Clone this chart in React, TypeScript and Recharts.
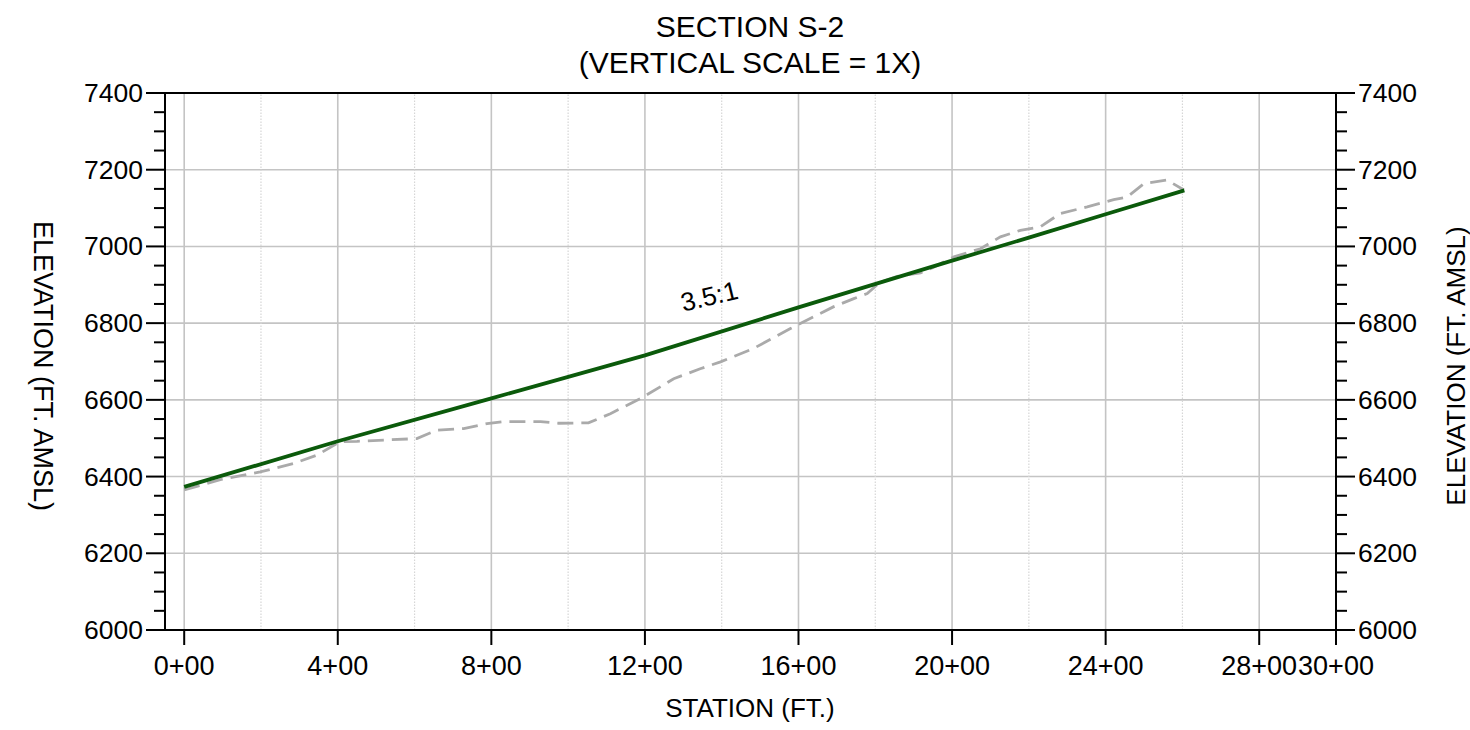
import React from 'react'
import { LineChart, Line, XAxis, YAxis, ReferenceLine, ReferenceDot } from 'recharts'

const FONT = '"Liberation Sans", Arial, Helvetica, sans-serif'

// proposed grade (3.5:1), station in ft, elevation in ft amsl
const designStations = [0, 400, 800, 1200, 1600, 2000, 2200, 2400, 2605]
const designElev = [6373, 6492, 6604, 6716, 6841, 6963, 7023, 7084, 7146]

// existing ground (dashed)
const groundStations = [
  0, 94, 198, 285, 346, 406, 450, 606, 658, 728, 789, 832, 928, 975, 1053, 1110,
  1188, 1275, 1344, 1397, 1483, 1579, 1692, 1744, 1779, 1813, 1857, 1918, 1952,
  2005, 2074, 2126, 2178, 2230, 2282, 2352, 2421, 2456, 2500, 2560, 2604
]
const groundElev = [
  6365, 6392, 6412, 6434, 6456, 6491, 6492, 6499, 6521, 6525, 6538, 6543, 6543,
  6539, 6540, 6564, 6603, 6655, 6681, 6699, 6734, 6786, 6843, 6864, 6877, 6907,
  6922, 6931, 6946, 6973, 6994, 7025, 7042, 7051, 7086, 7103, 7122, 7129, 7164,
  7173, 7147
]

const stationTicks = [0, 400, 800, 1200, 1600, 2000, 2400, 2800, 3000]
const elevTicks = [
  6000, 6050, 6100, 6150, 6200, 6250, 6300, 6350, 6400, 6450, 6500, 6550, 6600,
  6650, 6700, 6750, 6800, 6850, 6900, 6950, 7000, 7050, 7100, 7150, 7200, 7250,
  7300, 7350, 7400
]
const gridElev = [6200, 6400, 6600, 6800, 7000, 7200]
const gridStations = [0, 400, 800, 1200, 1600, 2000, 2400, 2800]
const dottedStations = [200, 600, 1000, 1400, 1800, 2200, 2600]

const designData = designStations.map((s, i) => ({ station: s, elev: designElev[i] }))
const groundData = groundStations.map((s, i) => ({ station: s, elev: groundElev[i] }))

const fmtStation = (v: number) => `${v / 100}+00`

function ElevTick({ x, y, payload, side }: any) {
  const major = payload.value % 200 === 0
  const len = major ? 19 : 11
  const dir = side === 'left' ? -1 : 1
  return (
    <g>
      <line x1={x} x2={x + dir * len} y1={y} y2={y} stroke="#000" strokeWidth={2} />
      {major && (
        <text
          x={x + dir * 22}
          y={y + 9}
          textAnchor={side === 'left' ? 'end' : 'start'}
          fontSize={26.5}
          fontFamily={FONT}
          fill="#000"
        >
          {payload.value}
        </text>
      )}
    </g>
  )
}

function StationTick({ x, y, payload }: any) {
  return (
    <text x={x} y={y + 30} textAnchor="middle" fontSize={27} fontFamily={FONT} fill="#000">
      {fmtStation(payload.value)}
    </text>
  )
}

export default function App() {
  return (
    <div style={{ position: 'absolute', left: 0, top: 0, width: 1470, height: 730, background: '#fff' }}>
      <LineChart width={1470} height={730} margin={{ top: 93, right: 0, bottom: 0, left: 0 }}>
        <XAxis
          type="number"
          dataKey="station"
          domain={[-50, 3000]}
          allowDataOverflow
          ticks={stationTicks}
          interval={0}
          height={100}
          tickSize={15}
          tickMargin={0}
          axisLine={{ stroke: '#000', strokeWidth: 2 }}
          tickLine={{ stroke: '#000', strokeWidth: 2 }}
          tick={<StationTick />}
        />
        <YAxis
          type="number"
          domain={[6000, 7400]}
          allowDataOverflow
          ticks={elevTicks}
          interval={0}
          width={165}
          tickSize={0}
          tickMargin={0}
          axisLine={{ stroke: '#000', strokeWidth: 2 }}
          tickLine={false}
          tick={<ElevTick side="left" />}
        />
        <YAxis
          yAxisId="right"
          orientation="right"
          type="number"
          domain={[6000, 7400]}
          allowDataOverflow
          ticks={elevTicks}
          interval={0}
          width={134}
          tickSize={0}
          tickMargin={0}
          axisLine={{ stroke: '#000', strokeWidth: 2 }}
          tickLine={false}
          tick={<ElevTick side="right" />}
        />

        {gridElev.map((v) => (
          <ReferenceLine key={`gy-${v}`} y={v} stroke="#c4c4c4" strokeWidth={1.6} />
        ))}
        {gridStations.map((v) => (
          <ReferenceLine key={`gx-${v}`} x={v} stroke="#c4c4c4" strokeWidth={1.6} />
        ))}
        {dottedStations.map((v) => (
          <ReferenceLine key={`dx-${v}`} x={v} stroke="#d6d6d6" strokeWidth={1.2} strokeDasharray="1.5 1.5" />
        ))}
        <ReferenceLine y={7400} stroke="#000" strokeWidth={2} />

        <Line
          data={groundData}
          dataKey="elev"
          type="linear"
          stroke="#aaaaaa"
          strokeWidth={2.8}
          strokeDasharray="16 8"
          dot={false}
          activeDot={false}
          isAnimationActive={false}
        />
        <Line
          data={designData}
          dataKey="elev"
          type="linear"
          stroke="#0b5a0b"
          strokeWidth={3.8}
          dot={false}
          activeDot={false}
          isAnimationActive={false}
        />
        <ReferenceDot
          x={1373}
          y={6847}
          r={0}
          shape={(p: any) => (
            <text
              x={p.cx}
              y={p.cy}
              textAnchor="middle"
              fontSize={26}
              fontFamily={FONT}
              fill="#000"
              transform={`rotate(-13.5, ${p.cx}, ${p.cy})`}
            >
              3.5:1
            </text>
          )}
        />
      </LineChart>

      <svg
        width={1470}
        height={730}
        style={{ position: 'absolute', left: 0, top: 0, pointerEvents: 'none' }}
      >
        <g fontFamily={FONT} fill="#000">
          <text x={750} y={37} textAnchor="middle" fontSize={30}>SECTION S-2</text>
          <text x={750} y={73} textAnchor="middle" fontSize={30}>(VERTICAL SCALE = 1X)</text>
          <text x={750} y={717} textAnchor="middle" fontSize={26}>STATION (FT.)</text>
          <text x={34} y={366} textAnchor="middle" fontSize={27} transform="rotate(90, 34, 366)">
            ELEVATION (FT. AMSL)
          </text>
          <text x={1465} y={366} textAnchor="middle" fontSize={26} transform="rotate(-90, 1465, 366)">
            ELEVATION (FT. AMSL)
          </text>
        </g>
      </svg>
    </div>
  )
}
